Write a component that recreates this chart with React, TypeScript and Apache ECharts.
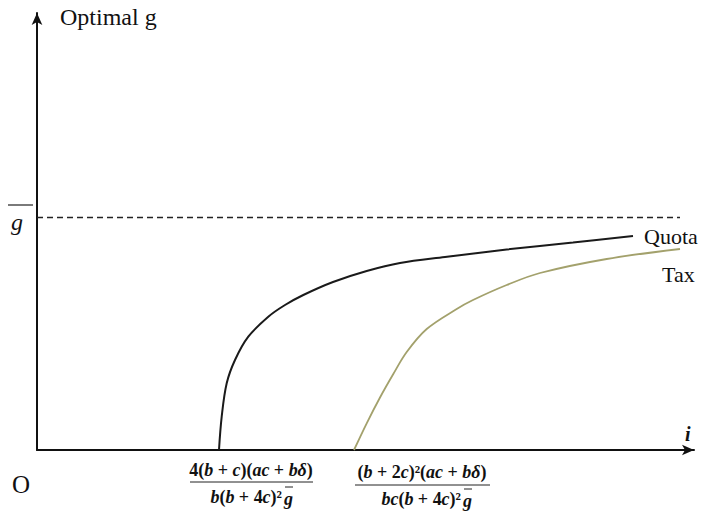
import React, { useEffect, useRef } from "react";
import * as echarts from "echarts";

// Data (x: interest-like variable i, y: optimal g), arbitrary units
const quotaX = [182, 184.7, 189.7, 198, 211.3, 231.3, 248, 266.3, 296, 329.7, 363, 408, 469.7, 536, 596];
const quotaY = [0, 33.3, 66.7, 90, 113.3, 133.3, 145, 155, 168, 179, 187, 193, 200.5, 207.5, 214];
const taxX = [317, 329.7, 343, 356.3, 369.7, 389.7, 419.7, 436, 469.7, 503, 569.7, 643];
const taxY = [0, 26.7, 52.5, 76, 98, 121, 141, 150, 165, 177, 191, 201];
const gBar = 233;
const gBarEndX = 643;
const seriesNames = ["Quota", "Tax"];

const SERIF = "Liberation Serif, Times New Roman, serif";

function richText(s: string): string {
  return s
    .split("")
    .map((ch) => (/[a-zδ]/.test(ch) ? `{i|${ch}}` : `{n|${ch}}`))
    .join("");
}

const richStyles = (size: number) => ({
  i: { fontFamily: SERIF, fontSize: size, fontStyle: "italic", fontWeight: "bold", fill: "#111" },
  n: { fontFamily: SERIF, fontSize: size, fontWeight: "bold", fill: "#111" },
});

function fracText(x: number, y: number, s: string, align: string, size = 18) {
  return {
    type: "text",
    x,
    y,
    style: {
      text: richText(s),
      rich: richStyles(size),
      fontFamily: SERIF,
      fontSize: size,
      align,
      verticalAlign: "middle",
    },
  };
}

function hline(x1: number, x2: number, y: number, w = 1) {
  return {
    type: "line",
    shape: { x1, y1: y, x2, y2: y },
    style: { stroke: "#222", lineWidth: w },
  };
}

function plainText(x: number, y: number, text: string, size: number, extra: any = {}) {
  return {
    type: "text",
    x,
    y,
    style: {
      text,
      fontFamily: SERIF,
      fontSize: size,
      fill: "#111",
      align: "left",
      verticalAlign: "middle",
      ...extra,
    },
  };
}

export default function App() {
  const ref = useRef<HTMLDivElement>(null);
  useEffect(() => {
    if (!ref.current) return;
    const chart = echarts.init(ref.current, null, { renderer: "svg" });
    const option: any = {
      animation: false,
      backgroundColor: "#fff",
      grid: { left: 37, top: 13, width: 657, height: 437 },
      xAxis: {
        type: "value",
        min: 0,
        max: 657,
        axisLine: {
          show: true,
          lineStyle: { color: "#111", width: 2 },
          symbol: ["none", "arrow"],
          symbolSize: [8, 12],
        },
        axisTick: { show: false },
        axisLabel: { show: false },
        splitLine: { show: false },
      },
      yAxis: {
        type: "value",
        min: 0,
        max: 437,
        axisLine: {
          show: true,
          lineStyle: { color: "#111", width: 2 },
          symbol: ["none", "arrow"],
          symbolSize: [8, 12],
        },
        axisTick: { show: false },
        axisLabel: { show: false },
        splitLine: { show: false },
      },
      series: [
        {
          name: seriesNames[0],
          type: "line",
          smooth: 0.35,
          showSymbol: false,
          data: quotaX.map((x, i) => [x, quotaY[i]]),
          lineStyle: { color: "#1a1a1a", width: 2 },
          markLine: {
            silent: true,
            symbol: ["none", "none"],
            label: { show: false },
            lineStyle: { color: "#222", width: 1.3, type: [6, 4] },
            data: [[{ coord: [0, gBar] }, { coord: [gBarEndX, gBar] }]],
          },
        },
        {
          name: seriesNames[1],
          type: "line",
          smooth: 0.35,
          showSymbol: false,
          data: taxX.map((x, i) => [x, taxY[i]]),
          lineStyle: { color: "#a3a16c", width: 1.8 },
        },
      ],
      graphic: [
        plainText(60, 17, "Optimal g", 24),
        plainText(12, 484, "O", 25),
        plainText(685, 434, "i", 20, { fontStyle: "italic", fontWeight: "bold" }),
        plainText(644, 236, "Quota", 22),
        plainText(662, 274, "Tax", 22),
        // g-bar label on y axis
        plainText(11, 222, "g", 24, { fontStyle: "italic" }),
        hline(8, 33, 205, 1.2),
        // first fraction
        fracText(251, 470, "4(b + c)(ac + bδ)", "center"),
        hline(190, 313, 482, 1),
        fracText(282, 497, "b(b + 4c)²", "right"),
        fracText(284, 499, "g", "left"),
        hline(285, 293, 487, 1),
        // second fraction
        fracText(422, 472, "(b + 2c)²(ac + bδ)", "center"),
        hline(355, 490, 485, 1),
        fracText(461, 499, "bc(b + 4c)²", "right"),
        fracText(463, 501, "g", "left"),
        hline(464, 472, 489, 1),
      ],
    };
    chart.setOption(option);
    return () => chart.dispose();
  }, []);
  return (
    <div
      ref={ref}
      style={{ position: "fixed", left: 0, top: 0, width: 707, height: 516 }}
    />
  );
}
